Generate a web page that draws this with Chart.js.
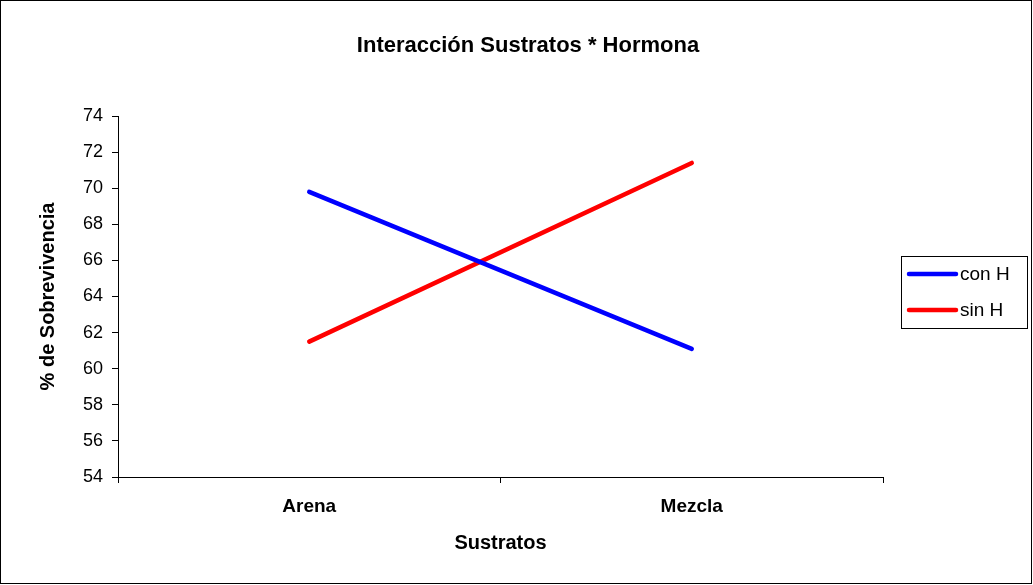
<!DOCTYPE html>
<html>
<head>
<meta charset="utf-8">
<script src="https://cdn.jsdelivr.net/npm/chart.js@4/dist/chart.umd.min.js"></script>
<style>
  body { margin: 0; background: #fff; }
  canvas { display: block; }
</style>
</head>
<body>
<canvas id="chart" width="1033" height="585"></canvas>
<script>
const categories = ["Arena", "Mezcla"];
const conH = [69.8, 61.1];
const sinH = [61.5, 71.4];
const yTicks = { min: 54, max: 74, step: 2 };
const chartTitle = "Interacción Sustratos * Hormona";

const FONT = "'Liberation Sans', Arial, sans-serif";

// frame round the whole figure, title centred on the figure, boxed legend on the right
const framePlugin = {
  id: "frame",
  afterDraw(chart) {
    const ctx = chart.ctx;
    ctx.save();
    ctx.strokeStyle = "#000";
    ctx.lineWidth = 1;
    ctx.strokeRect(0.5, 0.5, chart.width - 2, chart.height - 2);

    ctx.fillStyle = "#000";
    ctx.font = "bold 22px " + FONT;
    ctx.textAlign = "center";
    ctx.textBaseline = "middle";
    ctx.fillText(chartTitle, 528, 46);

    const box = { x: 901.5, y: 256.5, w: 126, h: 72 };
    ctx.strokeRect(box.x, box.y, box.w, box.h);
    ctx.font = "19px " + FONT;
    ctx.textAlign = "left";
    ctx.lineCap = "round";
    chart.data.datasets.forEach(function(ds, i) {
      const y = 274 + i * 36;
      ctx.strokeStyle = ds.borderColor;
      ctx.lineWidth = 4.5;
      ctx.beginPath();
      ctx.moveTo(909, y);
      ctx.lineTo(956, y);
      ctx.stroke();
      ctx.fillStyle = "#000";
      ctx.fillText(ds.label, 960, y + 1);
    });
    ctx.restore();
  }
};

new Chart(document.getElementById("chart").getContext("2d"), {
  type: "line",
  data: {
    labels: categories,
    datasets: [
      { label: "con H", data: conH, borderColor: "#0000ff", backgroundColor: "#0000ff" },
      { label: "sin H", data: sinH, borderColor: "#ff0000", backgroundColor: "#ff0000" }
    ]
  },
  options: {
    responsive: false,
    animation: false,
    layout: { padding: { left: 0, right: 150, top: 116, bottom: 0 } },
    elements: {
      line: { borderWidth: 4.5, borderCapStyle: "round", tension: 0 },
      point: { radius: 0, hoverRadius: 0 }
    },
    scales: {
      x: {
        type: "category",
        offset: true,
        afterFit(scale) { scale.height = 108; },
        grid: {
          offset: true,
          drawOnChartArea: false,
          drawTicks: true,
          tickLength: 6,
          color: "#000"
        },
        border: { color: "#000", width: 1 },
        ticks: {
          color: "#000",
          padding: 12.6,
          font: { family: FONT, size: 19, weight: "bold" }
        },
        title: {
          display: true,
          text: "Sustratos",
          color: "#000",
          font: { family: FONT, size: 20, weight: "bold" },
          padding: { top: 0, bottom: 30 }
        }
      },
      y: {
        min: yTicks.min,
        max: yTicks.max,
        afterFit(scale) { scale.width = 118; },
        grid: {
          drawOnChartArea: false,
          drawTicks: true,
          tickLength: 6,
          color: "#000"
        },
        border: { color: "#000", width: 1 },
        ticks: {
          stepSize: yTicks.step,
          color: "#000",
          padding: 9,
          font: { family: FONT, size: 18 }
        },
        title: {
          display: true,
          text: "% de Sobrevivencia",
          color: "#000",
          font: { family: FONT, size: 20, weight: "bold" },
          padding: { top: 36, bottom: 0 }
        }
      }
    },
    plugins: {
      legend: { display: false },
      tooltip: { enabled: false },
      title: { display: false }
    }
  },
  plugins: [framePlugin]
});
</script>
</body>
</html>
